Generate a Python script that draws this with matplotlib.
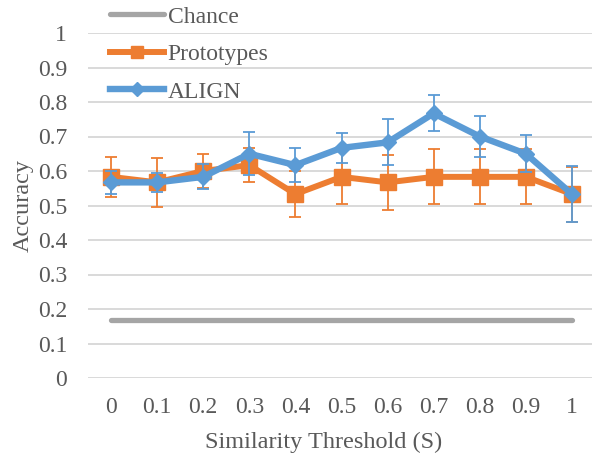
import numpy as np
import matplotlib
matplotlib.use("Agg")
import matplotlib.pyplot as plt
from matplotlib.lines import Line2D

# %%
# Data
thresholds = ["0", "0.1", "0.2", "0.3", "0.4", "0.5", "0.6", "0.7", "0.8", "0.9", "1"]
chance = [0.167] * 11
prototypes = [0.583, 0.567, 0.600, 0.617, 0.533, 0.583, 0.567, 0.583, 0.583, 0.583, 0.533]
prototypes_err = [0.058, 0.072, 0.050, 0.050, 0.067, 0.078, 0.080, 0.080, 0.080, 0.080, 0.080]
align = [0.567, 0.567, 0.583, 0.650, 0.617, 0.667, 0.683, 0.767, 0.700, 0.650, 0.533]
align_err = [0.033, 0.027, 0.036, 0.063, 0.050, 0.043, 0.067, 0.052, 0.060, 0.053, 0.081]
yticks = [0, 0.1, 0.2, 0.3, 0.4, 0.5, 0.6, 0.7, 0.8, 0.9, 1]

GRAY = "#A5A5A5"
ORANGE = "#ED7D31"
BLUE = "#5B9BD5"
TEXT = "#595959"

plt.rcParams["font.family"] = ["Liberation Serif", "DejaVu Serif"]

# %%
W, H = 592, 455
fig = plt.figure(figsize=(W / 100, H / 100), dpi=100)
ax = fig.add_axes([88 / W, (H - 378) / H, 507 / W, 345 / H])

x = np.arange(len(thresholds))

ax.plot(x, chance, color=GRAY, lw=3.8, solid_capstyle="round", zorder=3)
ax.errorbar(x, prototypes, yerr=prototypes_err, color=ORANGE, lw=4.3, marker="s", ms=11,
            ecolor=ORANGE, elinewidth=1.3, capsize=4, capthick=1.3, zorder=4)
ax.errorbar(x, align, yerr=align_err, color=BLUE, lw=4.6, marker="D", ms=7.8,
            ecolor=BLUE, elinewidth=1.3, capsize=4, capthick=1.3, zorder=5)

ax.set_xlim(-0.5, len(thresholds) - 0.5)
ax.set_ylim(0, 1)
ax.set_xticks(x)
ax.set_xticklabels(thresholds)
ax.set_yticks(yticks)
ax.set_yticklabels([f"{v:g}" for v in yticks])
ax.tick_params(axis="both", length=0, labelsize=17, colors=TEXT)
ax.tick_params(axis="x", pad=14)
ax.tick_params(axis="y", pad=15)
ax.grid(axis="y", color="#D9D9D9", lw=1.4)
ax.set_axisbelow(True)
for s in ax.spines.values():
    s.set_visible(False)

ax.set_xlabel("Similarity Threshold (S)", fontsize=17.5, color=TEXT, labelpad=6)
ax.xaxis.set_label_coords((324 - 88) / 507, -0.155)
ax.set_ylabel("Accuracy", fontsize=17.5, color=TEXT)
ax.yaxis.set_label_coords((34 - 88) / 507, 0.5)

# legend without the error bars in the handles
handles = [
    Line2D([], [], color=GRAY, lw=3.8, solid_capstyle="round"),
    Line2D([], [], color=ORANGE, lw=4.3, marker="s", ms=9),
    Line2D([], [], color=BLUE, lw=4.6, marker="D", ms=7.2),
]
leg = ax.legend(handles, ["Chance", "Prototypes", "ALIGN"], loc="upper left",
                bbox_to_anchor=(110 / W, 1 - 6 / H), bbox_transform=fig.transFigure,
                frameon=False, borderpad=0, borderaxespad=0, fontsize=17, handlelength=2.3,
                handletextpad=0.15, labelspacing=0.68, numpoints=1)
for t in leg.get_texts():
    t.set_color(TEXT)

fig.savefig("out.png", dpi=100)
